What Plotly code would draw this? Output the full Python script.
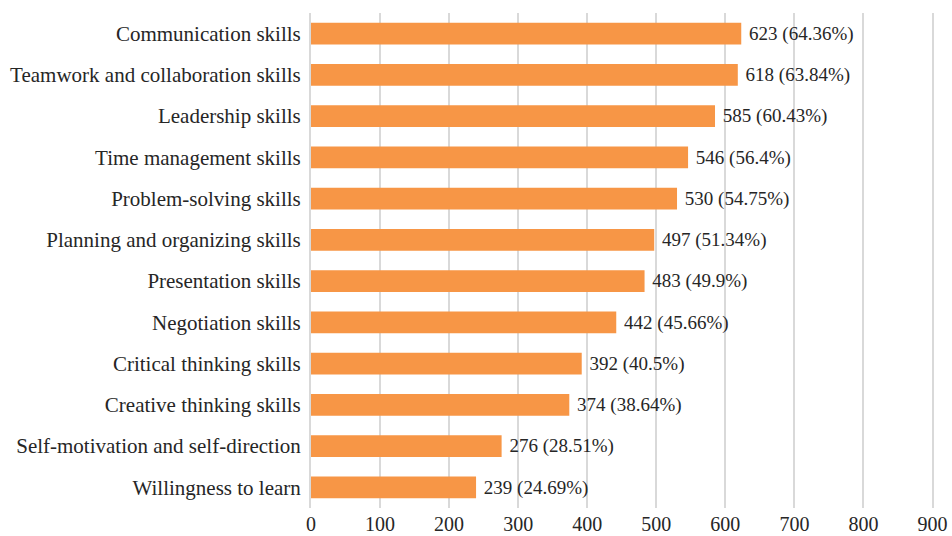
import plotly.graph_objects as go

categories = ["Communication skills", "Teamwork and collaboration skills", "Leadership skills",
              "Time management skills", "Problem-solving skills", "Planning and organizing skills",
              "Presentation skills", "Negotiation skills", "Critical thinking skills",
              "Creative thinking skills", "Self-motivation and self-direction", "Willingness to learn"]
counts = [623, 618, 585, 546, 530, 497, 483, 442, 392, 374, 276, 239]
percents = ["64.36%", "63.84%", "60.43%", "56.4%", "54.75%", "51.34%", "49.9%", "45.66%",
            "40.5%", "38.64%", "28.51%", "24.69%"]
tick_vals = [0, 100, 200, 300, 400, 500, 600, 700, 800, 900]

labels = [f"\u00a0{c} ({p})" for c, p in zip(counts, percents)]
font_family = "Liberation Serif, serif"

fig = go.Figure(go.Bar(
    y=categories, x=counts, orientation="h",
    marker=dict(color="#F79646", line=dict(width=0)),
    width=0.53,
    text=labels, textposition="outside", cliponaxis=False,
    textfont=dict(family=font_family, size=20, color="#262626"),
))

fig.update_layout(
    width=952, height=536,
    margin=dict(l=311, r=16, t=13, b=28, autoexpand=False),
    paper_bgcolor="white", plot_bgcolor="white",
    font=dict(family=font_family, size=20, color="#262626"),
    showlegend=False,
)
fig.update_xaxes(range=[0, 905], tickvals=tick_vals, showgrid=True, gridcolor="#D9D9D9",
                 gridwidth=2, zeroline=False, showline=False, ticks="", automargin=False,
                 tickfont=dict(size=20), ticklabelstandoff=2)
fig.update_yaxes(categoryorder="array", categoryarray=categories[::-1], autorange=True,
                 showline=True, linecolor="#D9D9D9", linewidth=2, ticks="", automargin=False,
                 ticklabelstandoff=4, tickfont=dict(size=21))

fig.write_html("out.html")
